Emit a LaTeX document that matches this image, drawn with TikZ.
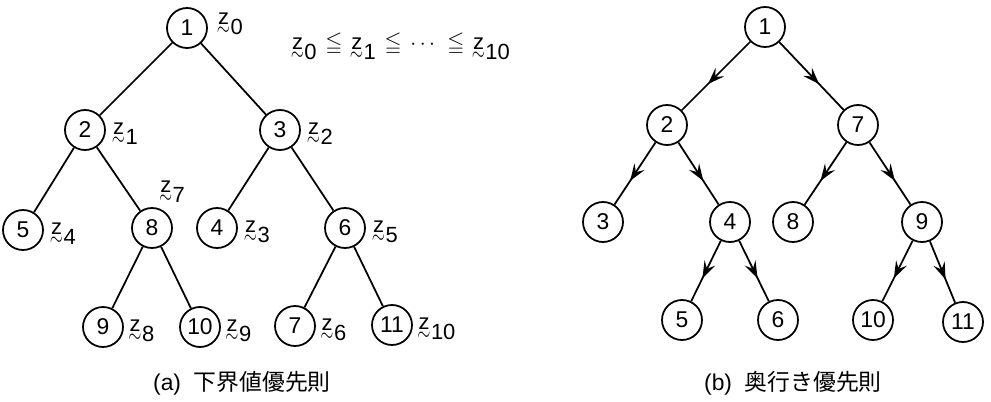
\documentclass[tikz,border=0pt]{standalone}
\usepackage{amsmath,amssymb}
\usepackage{graphicx}
\usepackage{fontspec}
\setmainfont{Liberation Sans}
\newfontfamily\jpfont{Noto Sans CJK JP}
\usepackage{tikz}
\usetikzlibrary{arrows.meta,positioning,decorations.markings}
% z with a tilde under it, then its index set low
\newcommand{\zt}{\leavevmode\rlap{\kern-0.06em\raisebox{-0.5em}{\scalebox{0.8}[1.1]{$\sim$}}}z}
\newcommand{\zv}[1]{\zt\kern0.06em\raisebox{-0.45em}{#1}}
\newcommand{\gap}{\kern0.4em}

\begin{document}
\begin{tikzpicture}[x=0.02cm,y=-0.02cm,
    vtx/.style={circle,draw,line width=1pt,minimum size=0.8cm,inner sep=0pt,
      font=\fontsize{13}{13}\selectfont},
    zlab/.style={inner sep=0pt,font=\fontsize{12.5}{13}\selectfont},
    link/.style={line width=1pt},
    dlink/.style={link,postaction={decorate},decoration={markings,
      mark=at position 0.62 with {\arrow{Stealth[length=3.4mm,width=2.4mm,inset=1.3mm]}}}},
    captxt/.style={font=\fontsize{13}{13}\selectfont}
  ]
    \useasboundingbox (0,0) rectangle (991,402);
    % (a) lower bound first
    \node[vtx] (a1) at (187,28) {1};
    \node[vtx] (a2) at (85,130) {2};
    \node[vtx] (a3) at (280,130) {3};
    \node[vtx] (a5) at (23,230) {5};
    \node[vtx] (a8) at (152,228) {8};
    \node[vtx] (a4) at (217,228) {4};
    \node[vtx] (a6) at (345,228) {6};
    \node[vtx] (a9) at (103,327) {9};
    \node[vtx] (a10) at (200,327) {10};
    \node[vtx] (a7) at (295,326) {7};
    \node[vtx] (a11) at (392,325) {11};
    \draw[link] (a1)--(a2) (a1)--(a3) (a2)--(a5) (a2)--(a8) (a3)--(a4) (a3)--(a6)
      (a8)--(a9) (a8)--(a10) (a6)--(a7) (a6)--(a11);
    \node[zlab,right=2mm of a1,yshift=0.08cm] (z0) {\zv{0}};
    \node[zlab,right=1.4mm of a2,yshift=-0.08cm] (z1) {\zv{1}};
    \node[zlab,right=1.4mm of a3,yshift=-0.08cm] (z2) {\zv{2}};
    \node[zlab,anchor=west] (z7) at ([shift={(8,-36)}]a8.center) {\zv{7}};
    \node[zlab,right=1.4mm of a5,yshift=-0.08cm] (z4) {\zv{4}};
    \node[zlab,right=1.4mm of a4,yshift=-0.08cm] (z3) {\zv{3}};
    \node[zlab,right=1.4mm of a6,yshift=-0.08cm] (z5) {\zv{5}};
    \node[zlab,right=1.1mm of a9,yshift=-0.08cm] (z8) {\zv{8}};
    \node[zlab,right=1.1mm of a10,yshift=-0.08cm] (z9) {\zv{9}};
    \node[zlab,right=1.1mm of a7,yshift=-0.08cm] (z6) {\zv{6}};
    \node[zlab,right=1.1mm of a11,yshift=-0.08cm] (z10) {\zv{10}};
    \node[zlab] (order) at (401,47)
      {\zv{0}\gap$\leqq$\gap\zv{1}\gap$\leqq$\gap$\cdots$\gap$\leqq$\gap\zv{10}};
    % (b) depth first
    \node[vtx] (b1) at (765,27) {1};
    \node[vtx] (b2) at (667,125) {2};
    \node[vtx] (b7) at (858,125) {7};
    \node[vtx] (b3) at (603,222) {3};
    \node[vtx] (b4) at (730,222) {4};
    \node[vtx] (b8) at (793,222) {8};
    \node[vtx] (b9) at (922,222) {9};
    \node[vtx] (b5) at (682,320) {5};
    \node[vtx] (b6) at (778,320) {6};
    \node[vtx] (b10) at (873,320) {10};
    \node[vtx] (b11) at (963,322) {11};
    \foreach \p/\c in {b1/b2,b1/b7,b2/b3,b2/b4,b7/b8,b7/b9,b4/b5,b4/b6,b9/b10,b9/b11}
      \draw[dlink] (\p)--(\c);
    % captions
    \node[captxt] (capa) at (242,383) {(a)\ \ {\jpfont 下界値優先則}};
    \node[captxt] (capb) at (793,383) {(b)\ \ {\jpfont 奥行き優先則}};
  \end{tikzpicture}
\end{document}
